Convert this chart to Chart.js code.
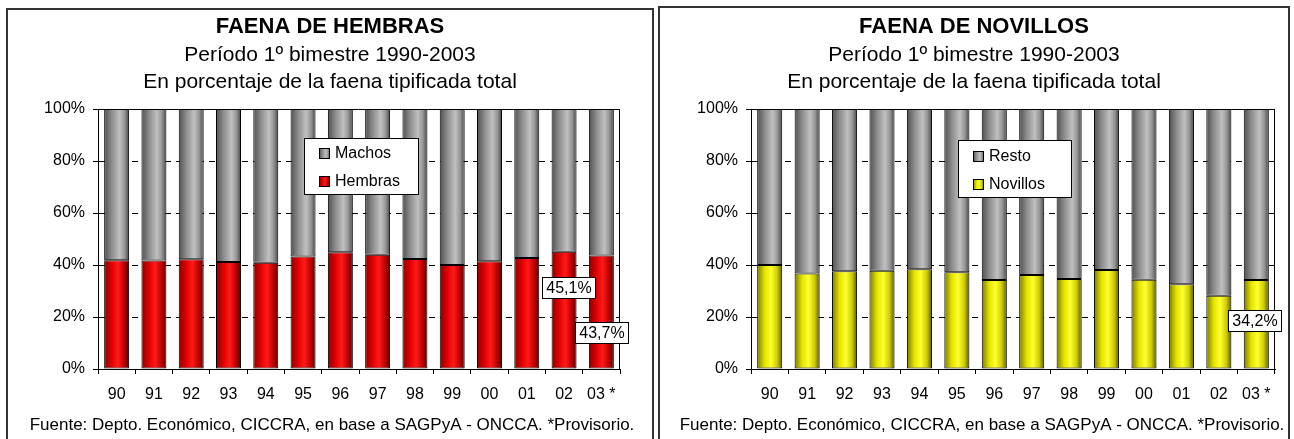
<!DOCTYPE html>
<html>
<head>
<meta charset="utf-8">
<script src="https://cdn.jsdelivr.net/npm/chart.js@4.4.0/dist/chart.umd.min.js"></script>
<style>
  html, body { margin: 0; padding: 0; background: #fff; overflow: hidden; }
  .panel { position: absolute; border: 2px solid #333; height: 460px; }
  #panelH { left: 6px; top: 8px; width: 644px; }
  #panelN { left: 658px; top: 6px; width: 628px; }
  canvas { display: block; }
</style>
</head>
<body>
<div class="panel" id="panelH"><canvas id="chartH" width="644" height="429"></canvas></div>
<div class="panel" id="panelN"><canvas id="chartN" width="628" height="431"></canvas></div>
<script>
"use strict";

// datos (1º bimestre de cada año)
const years = ["90", "91", "92", "93", "94", "95", "96", "97", "98", "99", "00", "01", "02", "03 *"];
const hembras = [41.8, 41.7, 42.2, 41.2, 40.9, 43.3, 44.9, 43.9, 42.3, 40.0, 41.4, 42.7, 45.1, 43.7];
const machos = [58.2, 58.3, 57.8, 58.8, 59.1, 56.7, 55.1, 56.1, 57.7, 60.0, 58.6, 57.3, 54.9, 56.3];
const novillos = [40.0, 36.7, 37.6, 37.8, 38.4, 37.2, 34.2, 36.2, 34.6, 38.1, 34.3, 32.6, 28.2, 34.2];
const resto = [60.0, 63.3, 62.4, 62.2, 61.6, 62.8, 65.8, 63.8, 65.4, 61.9, 65.7, 67.4, 71.8, 65.8];
const yTicks = [0, 20, 40, 60, 80, 100];

const subtitulo = ["Período 1º bimestre 1990-2003", "En porcentaje de la faena tipificada total"];
const fuente = "Fuente: Depto. Económico, CICCRA, en base a SAGPyA - ONCCA. *Provisorio.";

const FONT = '"Liberation Sans", Arial, sans-serif';
Chart.defaults.font.family = FONT;
Chart.defaults.color = "#000";

// degradés tipo cilindro de Excel
const greyStops = [[0, "#505050"], [0.3, "#8c8c8c"], [0.62, "#c0c0c0"], [0.82, "#959595"], [1, "#444"]];
const redStops = [[0, "#8a0000"], [0.3, "#e00000"], [0.55, "#ff1a1a"], [0.8, "#c00000"], [1, "#4a0000"]];
const yellowStops = [[0, "#7a7a00"], [0.3, "#e4e400"], [0.55, "#ffff30"], [0.8, "#cccc00"], [1, "#555500"]];

const BAR_PCT = 0.67;

function cylinder(stops) {
  return function (ctx) {
    const chart = ctx.chart;
    const xs = chart.scales && chart.scales.x;
    if (!xs || ctx.dataIndex === undefined) return stops[2][1];
    const cx = xs.getPixelForValue(ctx.dataIndex);
    const w = (xs.width / years.length) * BAR_PCT;
    if (!isFinite(cx) || !isFinite(w) || w <= 0) return stops[2][1];
    const g = chart.ctx.createLinearGradient(cx - w / 2, 0, cx + w / 2, 0);
    stops.forEach((s) => g.addColorStop(s[0], s[1]));
    return g;
  };
}

// titulos y fuente
const panelText = {
  id: "panelText",
  afterDraw(chart, args, opts) {
    const ctx = chart.ctx;
    ctx.save();
    ctx.fillStyle = "#000";
    ctx.textAlign = "center";
    ctx.textBaseline = "middle";
    opts.lines.forEach((l) => {
      ctx.font = (l.bold ? "bold " : "") + l.size + "px " + FONT;
      ctx.fillText(l.text, l.cx, l.y);
    });
    ctx.restore();
  }
};

// marco del area de graficos (arriba y derecha)
const plotFrame = {
  id: "plotFrame",
  afterDatasetsDraw(chart) {
    const { ctx, chartArea: a } = chart;
    ctx.save();
    ctx.strokeStyle = "#000";
    ctx.lineWidth = 1;
    const t = Math.round(a.top) + 0.5, r = Math.round(a.right) - 0.5;
    ctx.beginPath();
    ctx.moveTo(a.left, t);
    ctx.lineTo(r, t);
    ctx.lineTo(r, a.bottom);
    ctx.stroke();
    ctx.restore();
  }
};

// etiquetas con recuadro
const boxLabels = {
  id: "boxLabels",
  afterDatasetsDraw(chart, args, opts) {
    const { ctx, scales: { x, y } } = chart;
    ctx.save();
    ctx.font = "16px " + FONT;
    opts.items.forEach((it) => {
      const v = chart.data.datasets[0].data[it.index];
      const text = v.toFixed(1).replace(".", ",") + "%";
      const w = Math.round(ctx.measureText(text).width) + 8, h = 21;
      const cx = x.getPixelForValue(it.index) + (it.dx || 0);
      const cy = y.getPixelForValue(it.at);
      const bx = Math.round(cx - w / 2) + 0.5, by = Math.round(cy - h / 2) + 0.5;
      ctx.fillStyle = "#fff";
      ctx.fillRect(bx, by, w, h);
      ctx.strokeStyle = "#000";
      ctx.lineWidth = 1;
      ctx.strokeRect(bx, by, w, h);
      ctx.fillStyle = "#000";
      ctx.textAlign = "center";
      ctx.textBaseline = "middle";
      ctx.fillText(text, bx + w / 2, by + h / 2 + 1);
    });
    ctx.restore();
  }
};

// leyenda dentro del area
const boxLegend = {
  id: "boxLegend",
  afterDatasetsDraw(chart, args, o) {
    const ctx = chart.ctx;
    ctx.save();
    ctx.fillStyle = "#fff";
    ctx.fillRect(o.x + 0.5, o.y + 0.5, o.w, o.h);
    ctx.strokeStyle = "#000";
    ctx.lineWidth = 1;
    ctx.strokeRect(o.x + 0.5, o.y + 0.5, o.w, o.h);
    ctx.font = "16px " + FONT;
    ctx.textBaseline = "middle";
    ctx.textAlign = "left";
    o.items.forEach((it) => {
      const sx = o.x + 15, sy = it.y - 5;
      const g = ctx.createLinearGradient(sx, 0, sx + 11, 0);
      it.stops.forEach((s) => g.addColorStop(s[0], s[1]));
      ctx.fillStyle = g;
      ctx.fillRect(sx, sy, 11, 11);
      ctx.strokeRect(sx + 0.5, sy + 0.5, 10, 10);
      ctx.fillStyle = "#000";
      ctx.fillText(it.label, o.x + 31, it.y + 1);
    });
    ctx.restore();
  }
};

function buildChart(id, o) {
  const chart = new Chart(document.getElementById(id), {
    type: "bar",
    data: {
      labels: years,
      datasets: [
        {
          label: o.lowLabel,
          data: o.low,
          backgroundColor: cylinder(o.lowStops),
          borderColor: "#000",
          borderWidth: 1,
          borderSkipped: false,
          barPercentage: BAR_PCT,
          categoryPercentage: 1
        },
        {
          label: o.highLabel,
          data: o.high,
          backgroundColor: cylinder(greyStops),
          borderColor: "#000",
          borderWidth: 1,
          borderSkipped: false,
          barPercentage: BAR_PCT,
          categoryPercentage: 1
        }
      ]
    },
    options: {
      responsive: false,
      animation: false,
      events: [],
      layout: { padding: { top: o.top, right: o.right, bottom: 30, left: 0 } },
      plugins: {
        legend: { display: false },
        tooltip: { enabled: false },
        panelText: {
          lines: [
            { text: o.title, bold: true, size: 22, y: o.ty, cx: o.cx },
            { text: subtitulo[0], size: 21, y: o.ty + 28.5, cx: o.cx },
            { text: subtitulo[1], size: 21, y: o.ty + 55.5, cx: o.cx },
            { text: fuente, size: 17, y: o.fy, cx: o.fx }
          ]
        },
        boxLabels: { items: o.labels },
        boxLegend: o.legend
      },
      scales: {
        x: {
          stacked: true,
          grid: { drawOnChartArea: false, offset: true, tickLength: 5, color: "#000" },
          border: { color: "#000" },
          ticks: { font: { size: 16 }, padding: 11, maxRotation: 0, autoSkip: false },
          afterFit: (s) => { s.height = 40; }
        },
        y: {
          stacked: true,
          min: 0,
          max: 100,
          afterBuildTicks: (s) => { s.ticks = yTicks.map((v) => ({ value: v })); },
          ticks: { font: { size: 16 }, padding: 8, callback: (v) => v + "%" },
          grid: { color: "#000", tickLength: 5, tickBorderDash: [] },
          border: { color: "#000", dash: [6, 5] },
          afterFit: (s) => { s.width = o.left; }
        }
      }
    },
    plugins: [panelText, plotFrame, boxLabels, boxLegend]
  });
  chart.update(); // 2a pasada para que los degradés tomen las escalas ya medidas
  return chart;
}

buildChart("chartH", {
  title: "FAENA DE HEMBRAS",
  low: hembras, lowLabel: "Hembras", lowStops: redStops,
  high: machos, highLabel: "Machos",
  left: 90, top: 99, right: 32,
  cx: 322, ty: 17, fx: 324, fy: 415,
  labels: [{ index: 12, at: 31.3, dx: 4 }, { index: 13, at: 14.2 }],
  legend: {
    x: 296, y: 128, w: 114, h: 56,
    items: [
      { label: "Machos", stops: greyStops, y: 143 },
      { label: "Hembras", stops: redStops, y: 171 }
    ]
  }
});

buildChart("chartN", {
  title: "FAENA DE NOVILLOS",
  low: novillos, lowLabel: "Novillos", lowStops: yellowStops,
  high: resto, highLabel: "Resto",
  left: 91, top: 101, right: 13,
  cx: 314, ty: 19, fx: 322, fy: 417,
  labels: [{ index: 13, at: 18.5, dx: -2 }],
  legend: {
    x: 298, y: 132, w: 113, h: 57,
    items: [
      { label: "Resto", stops: greyStops, y: 148 },
      { label: "Novillos", stops: yellowStops, y: 176 }
    ]
  }
});
</script>
</body>
</html>
